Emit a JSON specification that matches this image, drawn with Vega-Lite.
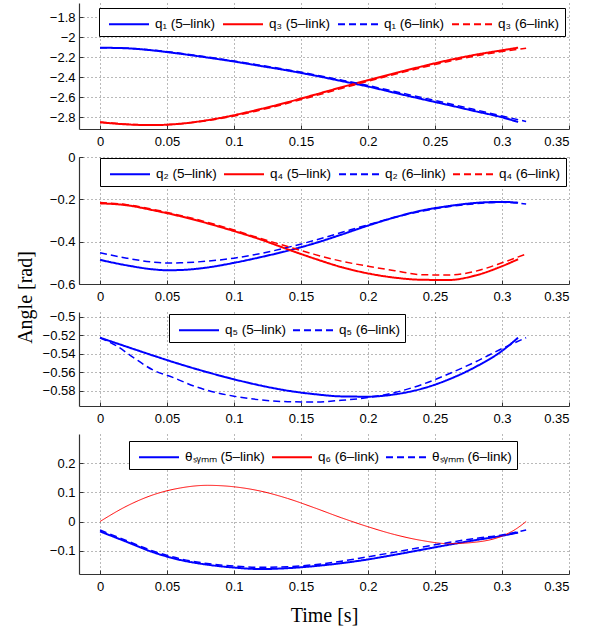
{
"$schema": "https://vega.github.io/schema/vega-lite/v6.json",
"padding": {"left": 15, "top": 3, "right": 10, "bottom": 5},
"bounds": "flush",
"spacing": 28,
"config": {
  "view": {"stroke": null},
  "axis": {"labelFont": "Liberation Sans", "labelFontSize": 13, "labelColor": "#000", "domainColor": "#333", "domainWidth": 1.2, "tickColor": "#333", "tickSize": -4, "grid": true, "gridColor": "#000", "gridDash": [1, 3], "gridOpacity": 0.55, "titleFont": "Liberation Serif", "titleFontSize": 20, "titleFontWeight": "normal", "titleColor": "#000"},
  "axisX": {"labelPadding": 10, "labelAngle": 0},
  "axisY": {"labelPadding": 8},
  "legend": {"orient": "none", "direction": "horizontal", "strokeColor": "#000", "fillColor": "#fff", "padding": 5, "labelFont": "Liberation Sans", "labelFontSize": 13.5, "labelColor": "#000", "symbolType": "M-0.6,0H3.4", "symbolSize": 400, "symbolStrokeWidth": 2, "labelOffset": 29, "columnPadding": 2},
  "line": {"interpolate": "monotone"}
},
"resolve": {"scale": {"color": "independent", "strokeDash": "independent"}, "legend": {"color": "independent", "strokeDash": "independent"}},
"datasets": {
"p1": [
{"s":"q₁ (5–link)","t":0,"v":-2.107},{"s":"q₁ (5–link)","t":0.02,"v":-2.113},{"s":"q₁ (5–link)","t":0.04,"v":-2.135},{"s":"q₁ (5–link)","t":0.06,"v":-2.168},{"s":"q₁ (5–link)","t":0.08,"v":-2.205},{"s":"q₁ (5–link)","t":0.1,"v":-2.245},{"s":"q₁ (5–link)","t":0.12,"v":-2.29},{"s":"q₁ (5–link)","t":0.14,"v":-2.335},{"s":"q₁ (5–link)","t":0.16,"v":-2.385},{"s":"q₁ (5–link)","t":0.18,"v":-2.44},{"s":"q₁ (5–link)","t":0.2,"v":-2.495},{"s":"q₁ (5–link)","t":0.22,"v":-2.558},{"s":"q₁ (5–link)","t":0.24,"v":-2.62},{"s":"q₁ (5–link)","t":0.26,"v":-2.68},{"s":"q₁ (5–link)","t":0.28,"v":-2.742},{"s":"q₁ (5–link)","t":0.3,"v":-2.803},{"s":"q₁ (5–link)","t":0.312,"v":-2.85},
{"s":"q₃ (5–link)","t":0,"v":-2.853},{"s":"q₃ (5–link)","t":0.02,"v":-2.874},{"s":"q₃ (5–link)","t":0.04,"v":-2.881},{"s":"q₃ (5–link)","t":0.06,"v":-2.867},{"s":"q₃ (5–link)","t":0.08,"v":-2.832},{"s":"q₃ (5–link)","t":0.1,"v":-2.782},{"s":"q₃ (5–link)","t":0.12,"v":-2.72},{"s":"q₃ (5–link)","t":0.14,"v":-2.652},{"s":"q₃ (5–link)","t":0.16,"v":-2.578},{"s":"q₃ (5–link)","t":0.18,"v":-2.503},{"s":"q₃ (5–link)","t":0.2,"v":-2.432},{"s":"q₃ (5–link)","t":0.22,"v":-2.362},{"s":"q₃ (5–link)","t":0.24,"v":-2.295},{"s":"q₃ (5–link)","t":0.26,"v":-2.232},{"s":"q₃ (5–link)","t":0.28,"v":-2.178},{"s":"q₃ (5–link)","t":0.3,"v":-2.133},{"s":"q₃ (5–link)","t":0.312,"v":-2.107},
{"s":"q₁ (6–link)","t":0,"v":-2.107},{"s":"q₁ (6–link)","t":0.02,"v":-2.112},{"s":"q₁ (6–link)","t":0.04,"v":-2.132},{"s":"q₁ (6–link)","t":0.06,"v":-2.163},{"s":"q₁ (6–link)","t":0.08,"v":-2.2},{"s":"q₁ (6–link)","t":0.1,"v":-2.24},{"s":"q₁ (6–link)","t":0.12,"v":-2.283},{"s":"q₁ (6–link)","t":0.14,"v":-2.328},{"s":"q₁ (6–link)","t":0.16,"v":-2.377},{"s":"q₁ (6–link)","t":0.18,"v":-2.43},{"s":"q₁ (6–link)","t":0.2,"v":-2.485},{"s":"q₁ (6–link)","t":0.22,"v":-2.545},{"s":"q₁ (6–link)","t":0.24,"v":-2.605},{"s":"q₁ (6–link)","t":0.26,"v":-2.665},{"s":"q₁ (6–link)","t":0.28,"v":-2.727},{"s":"q₁ (6–link)","t":0.3,"v":-2.79},{"s":"q₁ (6–link)","t":0.318,"v":-2.845},
{"s":"q₃ (6–link)","t":0,"v":-2.85},{"s":"q₃ (6–link)","t":0.02,"v":-2.872},{"s":"q₃ (6–link)","t":0.04,"v":-2.88},{"s":"q₃ (6–link)","t":0.06,"v":-2.868},{"s":"q₃ (6–link)","t":0.08,"v":-2.837},{"s":"q₃ (6–link)","t":0.1,"v":-2.79},{"s":"q₃ (6–link)","t":0.12,"v":-2.73},{"s":"q₃ (6–link)","t":0.14,"v":-2.662},{"s":"q₃ (6–link)","t":0.16,"v":-2.59},{"s":"q₃ (6–link)","t":0.18,"v":-2.515},{"s":"q₃ (6–link)","t":0.2,"v":-2.443},{"s":"q₃ (6–link)","t":0.22,"v":-2.373},{"s":"q₃ (6–link)","t":0.24,"v":-2.307},{"s":"q₃ (6–link)","t":0.26,"v":-2.245},{"s":"q₃ (6–link)","t":0.28,"v":-2.19},{"s":"q₃ (6–link)","t":0.3,"v":-2.145},{"s":"q₃ (6–link)","t":0.318,"v":-2.113}
],
"p2": [
{"s":"q₂ (5–link)","t":0,"v":-0.486},{"s":"q₂ (5–link)","t":0.02,"v":-0.512},{"s":"q₂ (5–link)","t":0.04,"v":-0.531},{"s":"q₂ (5–link)","t":0.05,"v":-0.535},{"s":"q₂ (5–link)","t":0.06,"v":-0.534},{"s":"q₂ (5–link)","t":0.08,"v":-0.522},{"s":"q₂ (5–link)","t":0.1,"v":-0.5},{"s":"q₂ (5–link)","t":0.12,"v":-0.473},{"s":"q₂ (5–link)","t":0.14,"v":-0.443},{"s":"q₂ (5–link)","t":0.16,"v":-0.408},{"s":"q₂ (5–link)","t":0.18,"v":-0.367},{"s":"q₂ (5–link)","t":0.2,"v":-0.324},{"s":"q₂ (5–link)","t":0.22,"v":-0.285},{"s":"q₂ (5–link)","t":0.24,"v":-0.253},{"s":"q₂ (5–link)","t":0.26,"v":-0.232},{"s":"q₂ (5–link)","t":0.28,"v":-0.217},{"s":"q₂ (5–link)","t":0.3,"v":-0.212},{"s":"q₂ (5–link)","t":0.312,"v":-0.216},
{"s":"q₄ (5–link)","t":0,"v":-0.219},{"s":"q₄ (5–link)","t":0.02,"v":-0.228},{"s":"q₄ (5–link)","t":0.04,"v":-0.252},{"s":"q₄ (5–link)","t":0.06,"v":-0.28},{"s":"q₄ (5–link)","t":0.08,"v":-0.313},{"s":"q₄ (5–link)","t":0.1,"v":-0.35},{"s":"q₄ (5–link)","t":0.12,"v":-0.39},{"s":"q₄ (5–link)","t":0.14,"v":-0.436},{"s":"q₄ (5–link)","t":0.16,"v":-0.48},{"s":"q₄ (5–link)","t":0.18,"v":-0.52},{"s":"q₄ (5–link)","t":0.2,"v":-0.55},{"s":"q₄ (5–link)","t":0.22,"v":-0.57},{"s":"q₄ (5–link)","t":0.24,"v":-0.58},{"s":"q₄ (5–link)","t":0.26,"v":-0.581},{"s":"q₄ (5–link)","t":0.28,"v":-0.56},{"s":"q₄ (5–link)","t":0.3,"v":-0.516},{"s":"q₄ (5–link)","t":0.312,"v":-0.483},
{"s":"q₂ (6–link)","t":0,"v":-0.452},{"s":"q₂ (6–link)","t":0.02,"v":-0.478},{"s":"q₂ (6–link)","t":0.04,"v":-0.497},{"s":"q₂ (6–link)","t":0.05,"v":-0.501},{"s":"q₂ (6–link)","t":0.06,"v":-0.5},{"s":"q₂ (6–link)","t":0.08,"v":-0.492},{"s":"q₂ (6–link)","t":0.1,"v":-0.478},{"s":"q₂ (6–link)","t":0.12,"v":-0.456},{"s":"q₂ (6–link)","t":0.14,"v":-0.427},{"s":"q₂ (6–link)","t":0.16,"v":-0.394},{"s":"q₂ (6–link)","t":0.18,"v":-0.357},{"s":"q₂ (6–link)","t":0.2,"v":-0.32},{"s":"q₂ (6–link)","t":0.22,"v":-0.285},{"s":"q₂ (6–link)","t":0.24,"v":-0.256},{"s":"q₂ (6–link)","t":0.26,"v":-0.235},{"s":"q₂ (6–link)","t":0.28,"v":-0.221},{"s":"q₂ (6–link)","t":0.3,"v":-0.214},{"s":"q₂ (6–link)","t":0.318,"v":-0.222},
{"s":"q₄ (6–link)","t":0,"v":-0.215},{"s":"q₄ (6–link)","t":0.02,"v":-0.225},{"s":"q₄ (6–link)","t":0.04,"v":-0.248},{"s":"q₄ (6–link)","t":0.06,"v":-0.276},{"s":"q₄ (6–link)","t":0.08,"v":-0.308},{"s":"q₄ (6–link)","t":0.1,"v":-0.345},{"s":"q₄ (6–link)","t":0.12,"v":-0.385},{"s":"q₄ (6–link)","t":0.14,"v":-0.423},{"s":"q₄ (6–link)","t":0.16,"v":-0.46},{"s":"q₄ (6–link)","t":0.18,"v":-0.492},{"s":"q₄ (6–link)","t":0.2,"v":-0.516},{"s":"q₄ (6–link)","t":0.22,"v":-0.537},{"s":"q₄ (6–link)","t":0.24,"v":-0.556},{"s":"q₄ (6–link)","t":0.26,"v":-0.558},{"s":"q₄ (6–link)","t":0.28,"v":-0.54},{"s":"q₄ (6–link)","t":0.3,"v":-0.5},{"s":"q₄ (6–link)","t":0.318,"v":-0.458}
],
"p3": [
{"s":"q₅ (5–link)","t":0,"v":-0.5227},{"s":"q₅ (5–link)","t":0.02,"v":-0.5325},{"s":"q₅ (5–link)","t":0.04,"v":-0.5422},{"s":"q₅ (5–link)","t":0.06,"v":-0.5515},{"s":"q₅ (5–link)","t":0.08,"v":-0.56},{"s":"q₅ (5–link)","t":0.1,"v":-0.5677},{"s":"q₅ (5–link)","t":0.12,"v":-0.5745},{"s":"q₅ (5–link)","t":0.14,"v":-0.58},{"s":"q₅ (5–link)","t":0.16,"v":-0.5838},{"s":"q₅ (5–link)","t":0.18,"v":-0.5862},{"s":"q₅ (5–link)","t":0.2,"v":-0.5865},{"s":"q₅ (5–link)","t":0.22,"v":-0.584},{"s":"q₅ (5–link)","t":0.24,"v":-0.578},{"s":"q₅ (5–link)","t":0.26,"v":-0.568},{"s":"q₅ (5–link)","t":0.28,"v":-0.5545},{"s":"q₅ (5–link)","t":0.3,"v":-0.537},{"s":"q₅ (5–link)","t":0.312,"v":-0.5227},
{"s":"q₅ (6–link)","t":0,"v":-0.5227},{"s":"q₅ (6–link)","t":0.0125,"v":-0.5317},{"s":"q₅ (6–link)","t":0.025,"v":-0.5443},{"s":"q₅ (6–link)","t":0.04,"v":-0.558},{"s":"q₅ (6–link)","t":0.055,"v":-0.566},{"s":"q₅ (6–link)","t":0.07,"v":-0.575},{"s":"q₅ (6–link)","t":0.08,"v":-0.5796},{"s":"q₅ (6–link)","t":0.1,"v":-0.586},{"s":"q₅ (6–link)","t":0.12,"v":-0.59},{"s":"q₅ (6–link)","t":0.14,"v":-0.5919},{"s":"q₅ (6–link)","t":0.16,"v":-0.5922},{"s":"q₅ (6–link)","t":0.18,"v":-0.5905},{"s":"q₅ (6–link)","t":0.2,"v":-0.5875},{"s":"q₅ (6–link)","t":0.22,"v":-0.582},{"s":"q₅ (6–link)","t":0.24,"v":-0.5735},{"s":"q₅ (6–link)","t":0.26,"v":-0.562},{"s":"q₅ (6–link)","t":0.28,"v":-0.549},{"s":"q₅ (6–link)","t":0.3,"v":-0.5345},{"s":"q₅ (6–link)","t":0.318,"v":-0.5227}
],
"p4": [
{"s":"θₛᵧₘₘ (5–link)","t":0,"v":-0.034},{"s":"θₛᵧₘₘ (5–link)","t":0.02,"v":-0.07},{"s":"θₛᵧₘₘ (5–link)","t":0.04,"v":-0.106},{"s":"θₛᵧₘₘ (5–link)","t":0.06,"v":-0.132},{"s":"θₛᵧₘₘ (5–link)","t":0.08,"v":-0.148},{"s":"θₛᵧₘₘ (5–link)","t":0.1,"v":-0.158},{"s":"θₛᵧₘₘ (5–link)","t":0.12,"v":-0.163},{"s":"θₛᵧₘₘ (5–link)","t":0.14,"v":-0.16},{"s":"θₛᵧₘₘ (5–link)","t":0.16,"v":-0.153},{"s":"θₛᵧₘₘ (5–link)","t":0.18,"v":-0.143},{"s":"θₛᵧₘₘ (5–link)","t":0.2,"v":-0.13},{"s":"θₛᵧₘₘ (5–link)","t":0.22,"v":-0.114},{"s":"θₛᵧₘₘ (5–link)","t":0.24,"v":-0.097},{"s":"θₛᵧₘₘ (5–link)","t":0.26,"v":-0.08},{"s":"θₛᵧₘₘ (5–link)","t":0.28,"v":-0.064},{"s":"θₛᵧₘₘ (5–link)","t":0.3,"v":-0.049},{"s":"θₛᵧₘₘ (5–link)","t":0.312,"v":-0.038},
{"s":"q₆ (6–link)","t":0,"v":0},{"s":"q₆ (6–link)","t":0.02,"v":0.053},{"s":"q₆ (6–link)","t":0.04,"v":0.092},{"s":"q₆ (6–link)","t":0.06,"v":0.115},{"s":"q₆ (6–link)","t":0.08,"v":0.124},{"s":"q₆ (6–link)","t":0.1,"v":0.119},{"s":"q₆ (6–link)","t":0.12,"v":0.104},{"s":"q₆ (6–link)","t":0.14,"v":0.079},{"s":"q₆ (6–link)","t":0.16,"v":0.047},{"s":"q₆ (6–link)","t":0.18,"v":0.013},{"s":"q₆ (6–link)","t":0.2,"v":-0.018},{"s":"q₆ (6–link)","t":0.22,"v":-0.045},{"s":"q₆ (6–link)","t":0.24,"v":-0.065},{"s":"q₆ (6–link)","t":0.26,"v":-0.076},{"s":"q₆ (6–link)","t":0.28,"v":-0.071},{"s":"q₆ (6–link)","t":0.3,"v":-0.05},{"s":"q₆ (6–link)","t":0.31,"v":-0.027},{"s":"q₆ (6–link)","t":0.318,"v":0},
{"s":"θₛᵧₘₘ (6–link)","t":0,"v":-0.029},{"s":"θₛᵧₘₘ (6–link)","t":0.02,"v":-0.066},{"s":"θₛᵧₘₘ (6–link)","t":0.04,"v":-0.102},{"s":"θₛᵧₘₘ (6–link)","t":0.06,"v":-0.128},{"s":"θₛᵧₘₘ (6–link)","t":0.08,"v":-0.144},{"s":"θₛᵧₘₘ (6–link)","t":0.1,"v":-0.153},{"s":"θₛᵧₘₘ (6–link)","t":0.12,"v":-0.157},{"s":"θₛᵧₘₘ (6–link)","t":0.14,"v":-0.155},{"s":"θₛᵧₘₘ (6–link)","t":0.16,"v":-0.148},{"s":"θₛᵧₘₘ (6–link)","t":0.18,"v":-0.136},{"s":"θₛᵧₘₘ (6–link)","t":0.2,"v":-0.121},{"s":"θₛᵧₘₘ (6–link)","t":0.22,"v":-0.105},{"s":"θₛᵧₘₘ (6–link)","t":0.24,"v":-0.088},{"s":"θₛᵧₘₘ (6–link)","t":0.26,"v":-0.072},{"s":"θₛᵧₘₘ (6–link)","t":0.28,"v":-0.058},{"s":"θₛᵧₘₘ (6–link)","t":0.3,"v":-0.046},{"s":"θₛᵧₘₘ (6–link)","t":0.318,"v":-0.029}
]
},
"vconcat": [
{
  "width": 490, "height": 126,
  "data": {"name": "p1"},
  "mark": {"type": "line", "clip": true},
  "encoding": {
    "x": {"field": "t", "type": "quantitative", "scale": {"domain": [-0.0157, 0.35], "nice": false, "zero": false}, "axis": {"values": [0, 0.05, 0.1, 0.15, 0.2, 0.25, 0.3, 0.35], "format": "~g", "title": null}},
    "y": {"field": "v", "type": "quantitative", "scale": {"domain": [-2.92, -1.66], "nice": false, "zero": false}, "axis": {"values": [-2.8, -2.6, -2.4, -2.2, -2, -1.8], "format": "~g", "title": null}},
    "color": {"field": "s", "type": "nominal", "scale": {"domain": ["q₁ (5–link)", "q₃ (5–link)", "q₁ (6–link)", "q₃ (6–link)"], "range": ["#0000ff", "#ff0000", "#0000ff", "#ff0000"]}, "legend": {"title": null, "legendX": 20, "legendY": 5}},
    "strokeDash": {"field": "s", "type": "nominal", "scale": {"domain": ["q₁ (5–link)", "q₃ (5–link)", "q₁ (6–link)", "q₃ (6–link)"], "range": [[1, 0], [1, 0], [7, 4], [7, 4]]}, "legend": {"title": null}},
    "strokeWidth": {"condition": {"test": "indexof(datum.s, '6–link') >= 0", "value": 1.5}, "value": 2}
  }
},
{
  "width": 490, "height": 127,
  "data": {"name": "p2"},
  "mark": {"type": "line", "clip": true},
  "encoding": {
    "x": {"field": "t", "type": "quantitative", "scale": {"domain": [-0.0157, 0.35], "nice": false, "zero": false}, "axis": {"values": [0, 0.05, 0.1, 0.15, 0.2, 0.25, 0.3, 0.35], "format": "~g", "title": null}},
    "y": {"field": "v", "type": "quantitative", "scale": {"domain": [-0.6, 0], "nice": false, "zero": false}, "axis": {"values": [-0.6, -0.4, -0.2, 0], "format": "~g", "title": null}},
    "color": {"field": "s", "type": "nominal", "scale": {"domain": ["q₂ (5–link)", "q₄ (5–link)", "q₂ (6–link)", "q₄ (6–link)"], "range": ["#0000ff", "#ff0000", "#0000ff", "#ff0000"]}, "legend": {"title": null, "legendX": 21, "legendY": 1}},
    "strokeDash": {"field": "s", "type": "nominal", "scale": {"domain": ["q₂ (5–link)", "q₄ (5–link)", "q₂ (6–link)", "q₄ (6–link)"], "range": [[1, 0], [1, 0], [7, 4], [7, 4]]}, "legend": {"title": null}},
    "strokeWidth": {"condition": {"test": "indexof(datum.s, '6–link') >= 0", "value": 1.5}, "value": 2}
  }
},
{
  "width": 490, "height": 94,
  "data": {"name": "p3"},
  "mark": {"type": "line", "clip": true},
  "encoding": {
    "x": {"field": "t", "type": "quantitative", "scale": {"domain": [-0.0157, 0.35], "nice": false, "zero": false}, "axis": {"values": [0, 0.05, 0.1, 0.15, 0.2, 0.25, 0.3, 0.35], "format": "~g", "title": null}},
    "y": {"field": "v", "type": "quantitative", "scale": {"domain": [-0.5966, -0.4949], "nice": false, "zero": false}, "axis": {"values": [-0.58, -0.56, -0.54, -0.52, -0.5], "format": "~g", "title": "Angle [rad]", "titleX": -54, "titleY": -15, "titleBaseline": "middle"}},
    "color": {"field": "s", "type": "nominal", "scale": {"domain": ["q₅ (5–link)", "q₅ (6–link)"], "range": ["#0000ff", "#0000ff"]}, "legend": {"title": null, "legendX": 90, "legendY": 2}},
    "strokeDash": {"field": "s", "type": "nominal", "scale": {"domain": ["q₅ (5–link)", "q₅ (6–link)"], "range": [[1, 0], [7, 4]]}, "legend": {"title": null}},
    "strokeWidth": {"condition": {"test": "indexof(datum.s, '6–link') >= 0", "value": 1.5}, "value": 2}
  }
},
{
  "width": 490, "height": 140,
  "data": {"name": "p4"},
  "mark": {"type": "line", "clip": true},
  "encoding": {
    "x": {"field": "t", "type": "quantitative", "scale": {"domain": [-0.0157, 0.35], "nice": false, "zero": false}, "axis": {"values": [0, 0.05, 0.1, 0.15, 0.2, 0.25, 0.3, 0.35], "format": "~g", "title": "Time [s]", "titlePadding": 12}},
    "y": {"field": "v", "type": "quantitative", "scale": {"domain": [-0.18, 0.3], "nice": false, "zero": false}, "axis": {"values": [-0.1, 0, 0.1, 0.2], "format": "~g", "title": null}},
    "color": {"field": "s", "type": "nominal", "scale": {"domain": ["θₛᵧₘₘ (5–link)", "q₆ (6–link)", "θₛᵧₘₘ (6–link)"], "range": ["#0000ff", "#ff0000", "#0000ff"]}, "legend": {"title": null, "legendX": 50, "legendY": 7}},
    "strokeDash": {"field": "s", "type": "nominal", "scale": {"domain": ["θₛᵧₘₘ (5–link)", "q₆ (6–link)", "θₛᵧₘₘ (6–link)"], "range": [[1, 0], [1, 0], [7, 4]]}, "legend": {"title": null}},
    "strokeWidth": {"condition": [{"test": "datum.s === 'q₆ (6–link)'", "value": 1}, {"test": "indexof(datum.s, '6–link') >= 0", "value": 1.5}], "value": 2}
  }
}
]
}
